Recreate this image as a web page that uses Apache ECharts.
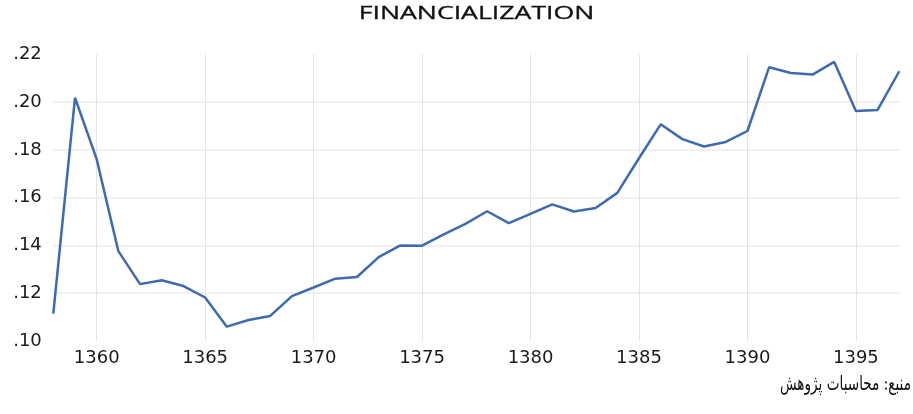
<!DOCTYPE html>
<html><head><meta charset="utf-8">
<script src="https://cdn.jsdelivr.net/npm/echarts@6/dist/echarts.min.js"></script>
<style>html,body{margin:0;padding:0;background:#fff}#c{width:913px;height:414px}</style>
</head><body><div id="c"></div>
<script>
const years = [];
for (let y = 1358; y <= 1397; y++) years.push(String(y));
const values = [
  0.1115, 0.2018, 0.1761, 0.1376, 0.1238, 0.1254, 0.1230, 0.1182, 0.1060, 0.1088,
  0.1105, 0.1188, 0.1224, 0.1261, 0.1268, 0.1351, 0.1400, 0.1399, 0.1446, 0.1490,
  0.1543, 0.1493, 0.1532, 0.1572, 0.1542, 0.1557, 0.1620, 0.1765, 0.1907, 0.1845,
  0.1814, 0.1833, 0.1879, 0.2146, 0.2122, 0.2115, 0.2168, 0.1963, 0.1967, 0.2129
];
const titleText = 'FINANCIALIZATION';
const sourceText = 'منبع: محاسبات پژوهش';

const chart = echarts.init(document.getElementById('c'));
const every5 = (i, v) => Number(v) % 5 === 0;
chart.setOption({
  animation: false,
  graphic: [{
    type: 'text', x: 476.5, y: 13.5, scaleX: 1.48,
    style: { text: titleText, font: '18px "Open Sans"', fill: '#111', align: 'center', verticalAlign: 'middle', stroke: '#111', lineWidth: 0.3 }
  }, {
    type: 'text', x: 911, y: 385, scaleX: 0.68,
    style: { text: sourceText, font: '20px "DejaVu Serif", "DejaVu Sans", serif', fill: '#111', align: 'right', verticalAlign: 'middle' }
  }],
  grid: { left: 53.3, right: 13.7, top: 54.3, bottom: 73, containLabel: false },
  xAxis: {
    type: 'category', data: years, boundaryGap: false,
    axisLine: { show: false }, axisTick: { show: false },
    axisLabel: { interval: every5, fontFamily: 'DejaVu Sans', fontSize: 18, color: '#1a1a1a', margin: 8 },
    splitLine: { show: true, interval: every5, lineStyle: { color: '#e4e4e4', width: 1 } }
  },
  yAxis: {
    type: 'value', min: 0.10, max: 0.22, interval: 0.02,
    axisLine: { show: false }, axisTick: { show: false },
    axisLabel: {
      fontFamily: 'DejaVu Sans', fontSize: 18, color: '#1a1a1a', margin: 11.5,
      formatter: v => v.toFixed(2).replace(/^0/, '')
    },
    splitLine: { show: true, showMinLine: false, showMaxLine: false, lineStyle: { color: '#ececec', width: 1.5 } }
  },
  series: [{
    type: 'line', data: values, showSymbol: false,
    lineStyle: { color: '#3c6bb4', width: 2.5 }
  }]
});
</script></body></html>
